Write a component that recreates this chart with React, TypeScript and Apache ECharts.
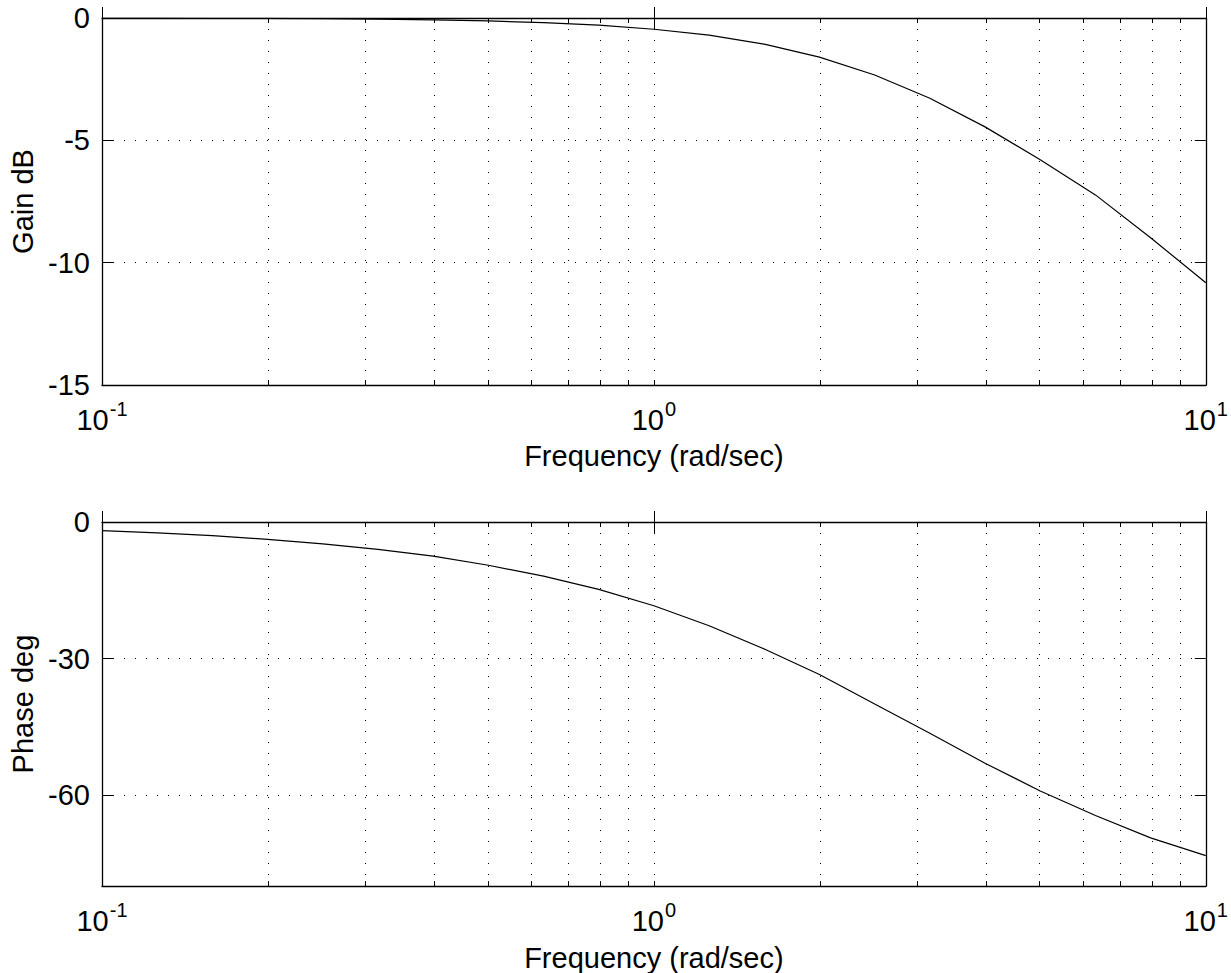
import React, { useEffect, useRef } from 'react';
import * as echarts from 'echarts';

// Frequencies (rad/sec), 10 points per decade
const freq = [0.1, 0.1259, 0.1585, 0.1995, 0.2512, 0.3162, 0.3981, 0.5012, 0.631, 0.7943, 1, 1.259, 1.585, 1.995, 2.512, 3.162, 3.981, 5.012, 6.31, 7.943, 10];
// Gain (dB)
const gainDb = [-0.005, -0.008, -0.012, -0.019, -0.03, -0.048, -0.076, -0.12, -0.19, -0.29, -0.46, -0.7, -1.07, -1.6, -2.33, -3.28, -4.45, -5.79, -7.23, -8.98, -10.82];
// Phase (deg)
const phaseDeg = [-1.9, -2.4, -3.0, -3.8, -4.8, -6.0, -7.5, -9.5, -11.9, -14.8, -18.4, -22.8, -27.9, -33.5, -40.0, -46.4, -53.0, -59.1, -64.5, -69.4, -73.3];

const xMajor = [0.1, 1, 10];
const xMinor = [0.1, 0.2, 0.3, 0.4, 0.5, 0.6, 0.7, 0.8, 0.9, 1, 2, 3, 4, 5, 6, 7, 8, 9, 10];
const gainTicks = [-15, -10, -5, 0];
const phaseTicks = [-60, -30, 0];

const FONT = '"Liberation Sans", Arial, Helvetica, sans-serif';
const FS = 29;
const dotted = { color: '#000', width: 1, type: [1, 10] as any };

function xAxesFor(gridIndex: number) {
  const base = {
    type: 'log',
    logBase: 10,
    min: 0.1,
    max: 10,
    gridIndex,
  };
  return [
    {
      ...base,
      position: 'bottom',
      name: 'Frequency (rad/sec)',
      nameLocation: 'middle',
      nameGap: 51,
      nameTextStyle: { fontFamily: FONT, fontSize: FS, color: '#000' },
      axisLine: { show: true, onZero: false, lineStyle: { color: '#000', width: 1.3 } },
      axisTick: { show: true, inside: true, length: 5, customValues: xMinor, lineStyle: { color: '#000' } },
      splitLine: { show: true, lineStyle: dotted },
      minorTick: { show: false },
      axisLabel: {
        show: true,
        customValues: xMajor,
        margin: 20,
        formatter: (v: number) => `{b|10}{s|${Math.round(Math.log10(v))}}`,
        rich: {
          b: { fontFamily: FONT, fontSize: FS, color: '#000', lineHeight: 30 },
          s: { fontFamily: FONT, fontSize: 20, color: '#000', lineHeight: 30, padding: [0, 0, 22, 1] },
        },
      },
    },
    {
      ...base,
      position: 'bottom',
      axisLine: { show: false },
      axisTick: { show: true, inside: true, length: 11, customValues: xMajor, lineStyle: { color: '#000' } },
      splitLine: { show: false },
      axisLabel: { show: false },
    },
    {
      ...base,
      position: 'top',
      axisLine: { show: true, onZero: false, lineStyle: { color: '#000', width: 1.3 } },
      axisTick: { show: true, inside: true, length: 5, customValues: xMinor, lineStyle: { color: '#000' } },
      splitLine: { show: false },
      axisLabel: { show: false },
    },
    {
      ...base,
      position: 'top',
      axisLine: { show: false },
      axisTick: { show: true, inside: true, length: 11, customValues: xMajor, lineStyle: { color: '#000' } },
      splitLine: { show: false },
      axisLabel: { show: false },
    },
  ];
}

function yAxesFor(gridIndex: number, name: string, min: number, max: number, ticks: number[]) {
  return [
    {
      type: 'value',
      gridIndex,
      position: 'left',
      min,
      max,
      name,
      nameLocation: 'middle',
      nameGap: 65,
      nameRotate: 90,
      nameTextStyle: { fontFamily: FONT, fontSize: FS, color: '#000' },
      axisLine: { show: true, onZero: false, lineStyle: { color: '#000', width: 1.3 } },
      axisTick: { show: true, inside: true, length: 11, customValues: ticks, lineStyle: { color: '#000' } },
      splitLine: { show: true, lineStyle: dotted },
      axisLabel: { show: true, customValues: ticks, margin: 12, fontFamily: FONT, fontSize: FS, color: '#000' },
    },
    {
      type: 'value',
      gridIndex,
      position: 'right',
      min,
      max,
      axisLine: { show: true, onZero: false, lineStyle: { color: '#000', width: 1.3 } },
      axisTick: { show: true, inside: true, length: 11, customValues: ticks, lineStyle: { color: '#000' } },
      splitLine: { show: false },
      axisLabel: { show: false },
    },
  ];
}

export default function App() {
  const ref = useRef<HTMLDivElement>(null);
  useEffect(() => {
    if (!ref.current) return;
    const chart = echarts.init(ref.current, undefined, { renderer: 'svg' });
    chart.setOption({
      animation: false,
      backgroundColor: '#fff',
      grid: [
        { left: 101, top: 18, width: 1105, height: 367, containLabel: false },
        { left: 101, top: 522, width: 1105, height: 367, containLabel: false },
      ],
      xAxis: [...xAxesFor(0), ...xAxesFor(1)],
      yAxis: [
        ...yAxesFor(0, 'Gain dB', -15, 0, gainTicks),
        ...yAxesFor(1, 'Phase deg', -80, 0, phaseTicks),
      ],
      series: [
        {
          type: 'line',
          xAxisIndex: 0,
          yAxisIndex: 0,
          data: freq.map((f, i) => [f, gainDb[i]]),
          showSymbol: false,
          symbol: 'none',
          lineStyle: { color: '#000', width: 1.2 },
          clip: true,
        },
        {
          type: 'line',
          xAxisIndex: 4,
          yAxisIndex: 2,
          data: freq.map((f, i) => [f, phaseDeg[i]]),
          showSymbol: false,
          symbol: 'none',
          lineStyle: { color: '#000', width: 1.2 },
          clip: true,
        },
      ],
    });
    return () => chart.dispose();
  }, []);
  return (
    <div
      ref={ref}
      style={{ position: 'fixed', left: 0, top: 0, width: 1231, height: 973, background: '#fff' }}
    />
  );
}
